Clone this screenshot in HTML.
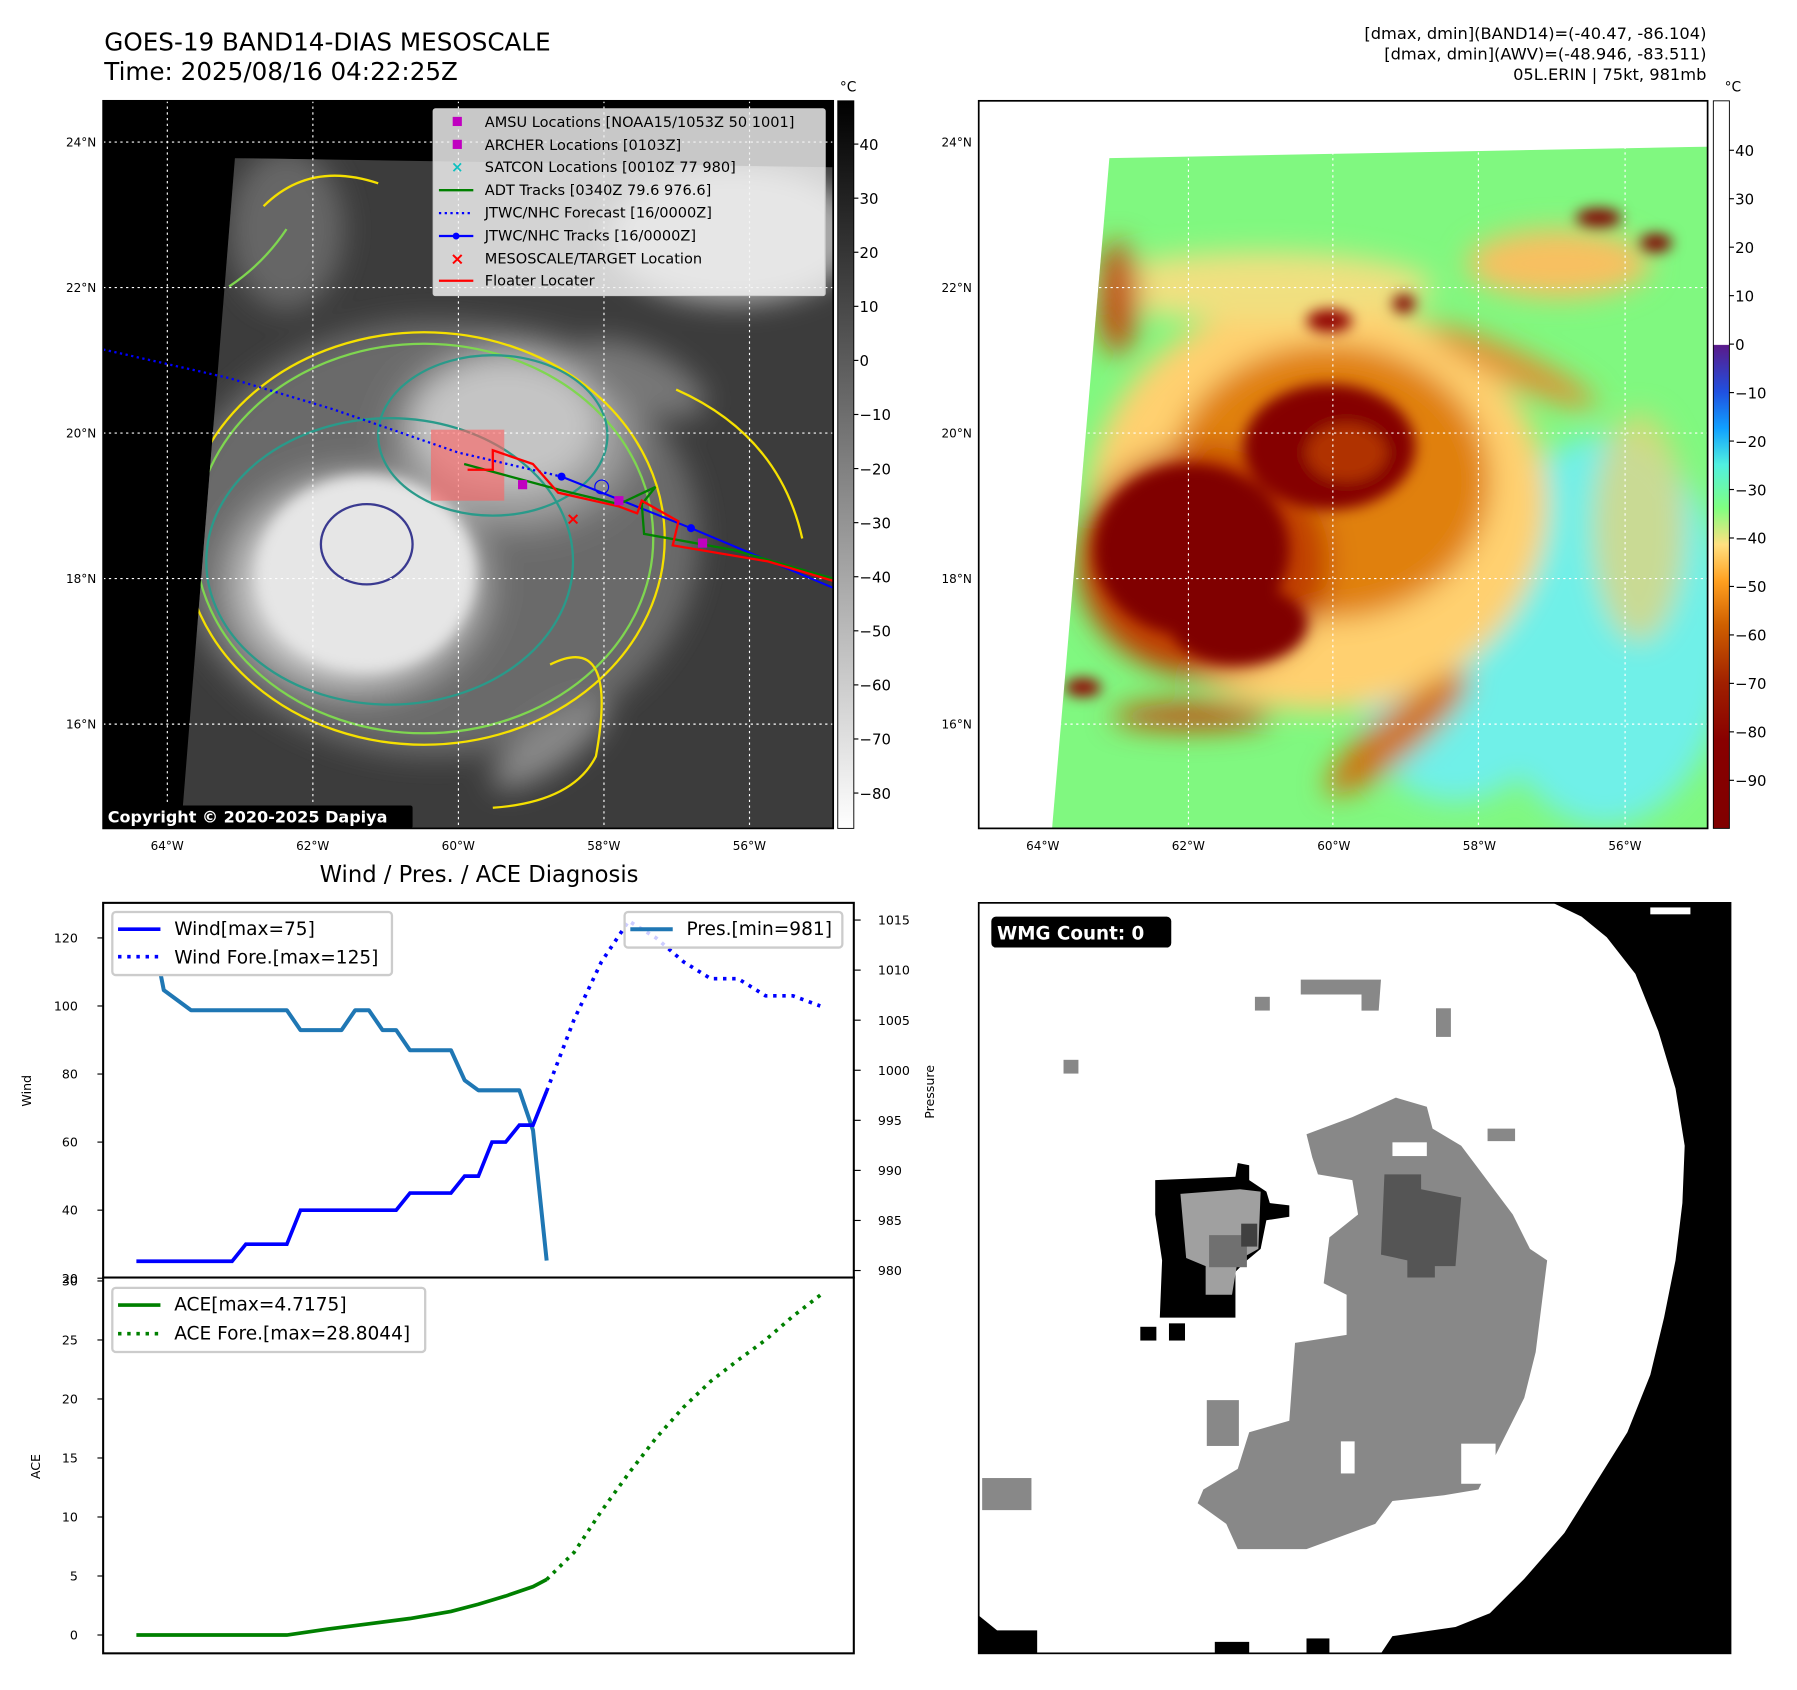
<!DOCTYPE html>
<html><head><meta charset="utf-8"><style>
html,body{margin:0;padding:0;background:#fff;}
svg{display:block;font-family:"DejaVu Sans","Liberation Sans",sans-serif;}
</style></head><body>
<svg id="fig" width="1797" height="1690" viewBox="0 0 1568 1475" preserveAspectRatio="none" xmlns="http://www.w3.org/2000/svg">
<defs>
<filter id="blur6"><feGaussianBlur stdDeviation="6"/></filter>
<filter id="blur12"><feGaussianBlur stdDeviation="12"/></filter>
<filter id="blur3"><feGaussianBlur stdDeviation="3"/></filter>
<clipPath id="clipL"><polygon points="205,138 727,146 727,723 158,723"/></clipPath>
<clipPath id="clipR"><polygon points="968,138 1490,128 1490,723 918,723"/></clipPath>
<linearGradient id="cbGrey" x1="0" y1="0" x2="0" y2="1"><stop offset="0" stop-color="#000"/><stop offset="1" stop-color="#fff"/></linearGradient>
<linearGradient id="cbColor" x1="0" y1="0" x2="0" y2="1">
<stop offset="0" stop-color="#fff"/><stop offset="0.335" stop-color="#fff"/>
<stop offset="0.336" stop-color="#5a1a8a"/><stop offset="0.4" stop-color="#2050e0"/>
<stop offset="0.45" stop-color="#10a0ff"/><stop offset="0.5" stop-color="#50f0e0"/>
<stop offset="0.56" stop-color="#80ff80"/><stop offset="0.61" stop-color="#ffe080"/>
<stop offset="0.66" stop-color="#ffa020"/><stop offset="0.72" stop-color="#d06000"/>
<stop offset="0.8" stop-color="#a02000"/><stop offset="0.88" stop-color="#880000"/><stop offset="1" stop-color="#800000"/>
</linearGradient>
<radialGradient id="coreL" cx="0.5" cy="0.5" r="0.5"><stop offset="0" stop-color="#f4f4f4"/><stop offset="0.6" stop-color="#e0e0e0"/><stop offset="1" stop-color="#e0e0e0" stop-opacity="0"/></radialGradient>
<radialGradient id="midL" cx="0.5" cy="0.5" r="0.5"><stop offset="0" stop-color="#bdbdbd"/><stop offset="0.7" stop-color="#9a9a9a"/><stop offset="1" stop-color="#777" stop-opacity="0"/></radialGradient>
</defs>

<!-- Titles -->
<text x="91" y="44" font-size="21.5">GOES-19 BAND14-DIAS MESOSCALE</text>
<text x="91" y="70" font-size="21.5">Time: 2025/08/16 04:22:25Z</text>
<text x="1489" y="34" font-size="14.2" text-anchor="end">[dmax, dmin](BAND14)=(-40.47, -86.104)</text>
<text x="1489" y="52" font-size="14.2" text-anchor="end">[dmax, dmin](AWV)=(-48.946, -83.511)</text>
<text x="1489" y="70" font-size="14.2" text-anchor="end">05L.ERIN | 75kt, 981mb</text>

<!-- LEFT MAP -->
<g>
<rect x="90" y="88" width="637" height="635" fill="#000"/>
<g clip-path="url(#clipL)">
<rect x="90" y="88" width="637" height="635" fill="#3c3c3c"/>
<g filter="url(#blur12)">
<ellipse cx="640" cy="205" rx="110" ry="60" fill="#a8a8a8"/>
<ellipse cx="250" cy="200" rx="50" ry="70" fill="#666"/>
<ellipse cx="380" cy="470" rx="230" ry="190" fill="#6a6a6a"/>
<ellipse cx="450" cy="380" rx="130" ry="100" fill="url(#midL)"/>
<ellipse cx="310" cy="510" rx="130" ry="110" fill="url(#coreL)"/>
<ellipse cx="440" cy="370" rx="80" ry="55" fill="#c4c4c4"/>
<ellipse cx="480" cy="650" rx="60" ry="20" fill="#888" transform="rotate(-35 480 650)"/>
<ellipse cx="560" cy="330" rx="60" ry="25" fill="#777" transform="rotate(25 560 330)"/>
</g>
<ellipse cx="320" cy="500" rx="95" ry="85" fill="#e6e6e6" filter="url(#blur6)"/>
<g fill="none" stroke-width="2">
<ellipse cx="370" cy="470" rx="210" ry="180" stroke="#f5e000"/>
<ellipse cx="370" cy="470" rx="200" ry="170" stroke="#7fd650"/>
<ellipse cx="340" cy="490" rx="160" ry="125" stroke="#2a9a8a"/>
<ellipse cx="430" cy="380" rx="100" ry="70" stroke="#2a9a8a"/>
<ellipse cx="320" cy="475" rx="40" ry="35" stroke="#3a3a90"/>
<path d="M480 580 Q540 550 520 660 Q500 700 430 705" stroke="#f5e000"/>
<path d="M590 340 Q680 380 700 470" stroke="#f5e000"/>
<path d="M230 180 Q270 140 330 160" stroke="#f5e000"/>
<path d="M200 250 Q230 230 250 200" stroke="#7fd650"/>
</g>
</g>
<g stroke="#fff" stroke-width="1" stroke-dasharray="2,3" fill="none">
<line x1="146" y1="88" x2="146" y2="723"/><line x1="273" y1="88" x2="273" y2="723"/><line x1="400" y1="88" x2="400" y2="723"/><line x1="527" y1="88" x2="527" y2="723"/><line x1="654" y1="88" x2="654" y2="723"/>
<line x1="90" y1="124" x2="727" y2="124"/><line x1="90" y1="251" x2="727" y2="251"/><line x1="90" y1="378" x2="727" y2="378"/><line x1="90" y1="505" x2="727" y2="505"/><line x1="90" y1="632" x2="727" y2="632"/>
</g>
<rect x="376" y="375" width="64" height="62" fill="#ff6060" opacity="0.6"/>
<polyline points="90,305 200,330 290,357 400,395 490,416" fill="none" stroke="#0000ff" stroke-width="2" stroke-dasharray="2,3"/>
<polyline points="490,416 603,461 727,513" fill="none" stroke="#0000ff" stroke-width="1.8"/>
<circle cx="490" cy="416" r="3.5" fill="#0000ff"/><circle cx="603" cy="461" r="3.5" fill="#0000ff"/><circle cx="525" cy="425" r="6" fill="none" stroke="#0000ff"/>
<polyline points="405,405 490,428 540,440 572,425 560,440 562,466 640,480 727,505" fill="none" stroke="#008000" stroke-width="2"/>
<polyline points="408,410 430,410 430,393 465,405 487,430 540,442 556,448 560,437 592,455 587,476 670,490 727,507" fill="none" stroke="#ff0000" stroke-width="2"/>
<text x="500" y="458" font-size="15" fill="#ff0000" text-anchor="middle" font-weight="bold">×</text>
<rect x="452" y="419" width="8" height="8" fill="#c000c0"/><rect x="609" y="470" width="8" height="8" fill="#c000c0"/><rect x="536" y="433" width="8" height="8" fill="#c000c0"/>
<g>
<rect x="378" y="95" width="342" height="163" fill="#f4f4f4" fill-opacity="0.82" stroke="#ccc" rx="2"/>
<g font-size="12.7" fill="#000">
<rect x="395" y="102" width="8" height="8" fill="#c000c0"/><text x="423" y="111">AMSU Locations [NOAA15/1053Z 50 1001]</text>
<rect x="395" y="122" width="8" height="8" fill="#c000c0"/><text x="423" y="131">ARCHER Locations [0103Z]</text>
<text x="399" y="150" fill="#10c0c0" text-anchor="middle" font-size="13" font-weight="bold">×</text><text x="423" y="150">SATCON Locations [0010Z 77 980]</text>
<line x1="383" y1="166" x2="413" y2="166" stroke="#008000" stroke-width="2"/><text x="423" y="170">ADT Tracks [0340Z 79.6 976.6]</text>
<line x1="383" y1="186" x2="413" y2="186" stroke="#0000ff" stroke-width="2" stroke-dasharray="2,3"/><text x="423" y="190">JTWC/NHC Forecast [16/0000Z]</text>
<line x1="383" y1="206" x2="413" y2="206" stroke="#0000ff" stroke-width="2"/><circle cx="398" cy="206" r="3" fill="#0000ff"/><text x="423" y="210">JTWC/NHC Tracks [16/0000Z]</text>
<text x="399" y="231" fill="#ff0000" text-anchor="middle" font-size="15" font-weight="bold">×</text><text x="423" y="230">MESOSCALE/TARGET Location</text>
<line x1="383" y1="245" x2="413" y2="245" stroke="#ff0000" stroke-width="2"/><text x="423" y="249">Floater Locater</text>
</g></g>
<rect x="90" y="703" width="270" height="20" fill="#000" rx="2"/>
<text x="94" y="718" font-size="14" fill="#fff" font-weight="bold">Copyright © 2020-2025 Dapiya</text>
<rect x="90" y="88" width="637" height="635" fill="none" stroke="#000" stroke-width="1.5"/>
</g>
<g>
<rect x="731" y="88" width="14" height="635" fill="url(#cbGrey)" stroke="#000" stroke-width="0.8"/>
<text x="740" y="80" font-size="12" text-anchor="middle">°C</text>
<g font-size="13" id="cb1ticks"></g>
</g>
<g id="mapTicksL" font-size="10.5"></g>

<!-- RIGHT MAP -->
<g>
<rect x="854" y="88" width="636" height="635" fill="#fff"/>
<g clip-path="url(#clipR)">
<rect x="854" y="88" width="636" height="635" fill="#80f880"/>
<g filter="url(#blur12)">
<ellipse cx="1400" cy="550" rx="110" ry="170" fill="#70f0e8"/>
<ellipse cx="1270" cy="620" rx="80" ry="80" fill="#70f0e8"/>
<ellipse cx="1150" cy="440" rx="200" ry="180" fill="#ffd070"/>
<ellipse cx="1100" cy="250" rx="150" ry="30" fill="#f0e080"/>
<ellipse cx="1360" cy="230" rx="80" ry="30" fill="#f8c060"/>
<ellipse cx="1160" cy="420" rx="140" ry="120" fill="#e08010"/>
<ellipse cx="1050" cy="490" rx="110" ry="100" fill="#c04000"/>
<ellipse cx="1220" cy="640" rx="80" ry="20" fill="#d07010" transform="rotate(-40 1220 640)"/>
<ellipse cx="1040" cy="625" rx="70" ry="12" fill="#c05010"/>
<ellipse cx="1320" cy="320" rx="80" ry="14" fill="#e09030" transform="rotate(25 1320 320)"/>
<ellipse cx="975" cy="260" rx="18" ry="50" fill="#c05010"/>
<ellipse cx="1430" cy="460" rx="40" ry="100" fill="#f0d070" opacity="0.7"/>
</g>
<g filter="url(#blur6)">
<ellipse cx="1040" cy="480" rx="85" ry="75" fill="#800000"/>
<ellipse cx="1080" cy="545" rx="60" ry="35" fill="#800000"/>
<ellipse cx="1160" cy="390" rx="75" ry="55" fill="#850000"/>
<ellipse cx="1175" cy="395" rx="35" ry="25" fill="#b03000"/>
<ellipse cx="1395" cy="190" rx="20" ry="8" fill="#800000"/>
<ellipse cx="1445" cy="212" rx="14" ry="8" fill="#800000"/>
<ellipse cx="1160" cy="280" rx="20" ry="10" fill="#900000"/>
<ellipse cx="1225" cy="265" rx="10" ry="8" fill="#800000"/>
<ellipse cx="945" cy="600" rx="16" ry="8" fill="#900000"/>
</g>
</g>
<g stroke="#fff" stroke-width="1" stroke-dasharray="2,3" fill="none">
<line x1="910" y1="88" x2="910" y2="723"/><line x1="1037" y1="88" x2="1037" y2="723"/><line x1="1163" y1="88" x2="1163" y2="723"/><line x1="1290" y1="88" x2="1290" y2="723"/><line x1="1418" y1="88" x2="1418" y2="723"/>
<line x1="854" y1="124" x2="1490" y2="124"/><line x1="854" y1="251" x2="1490" y2="251"/><line x1="854" y1="378" x2="1490" y2="378"/><line x1="854" y1="505" x2="1490" y2="505"/><line x1="854" y1="632" x2="1490" y2="632"/>
</g>
<rect x="854" y="88" width="636" height="635" fill="none" stroke="#000" stroke-width="1.5"/>
</g>
<g>
<rect x="1495" y="88" width="14" height="635" fill="url(#cbColor)" stroke="#000" stroke-width="0.8"/>
<text x="1512" y="80" font-size="12" text-anchor="middle">°C</text>
<g font-size="13" id="cb2ticks"></g>
</g>
<g id="mapTicksR" font-size="10.5"></g>

<!-- WIND / PRESSURE / ACE -->
<text x="418" y="770" font-size="19.8" text-anchor="middle">Wind / Pres. / ACE Diagnosis</text>
<g id="windPanel"></g>
<g id="acePanel"></g>

<!-- WMG -->
<g>
<rect x="854" y="788" width="656" height="655" fill="#fff"/>
<polygon fill="#000" points="1355,788 1510,788 1510,1443 1205,1443 1215,1428 1270,1420 1300,1408 1330,1378 1365,1338 1390,1298 1420,1250 1440,1200 1452,1150 1462,1100 1468,1050 1470,1000 1462,950 1447,900 1427,850 1402,818 1380,800"/>
<rect x="1440" y="792" width="35" height="6" fill="#fff"/>
<polygon fill="#000" points="854,1410 870,1423 905,1423 905,1443 854,1443"/>
<rect x="1060" y="1433" width="30" height="10" fill="#000"/><rect x="1140" y="1430" width="20" height="13" fill="#000"/>
<polygon fill="#888" points="1140,990 1180,975 1218,958 1245,966 1250,985 1275,1000 1290,1020 1305,1040 1320,1060 1335,1090 1350,1100 1340,1180 1330,1220 1310,1260 1290,1300 1260,1305 1215,1310 1200,1330 1140,1352 1080,1352 1070,1330 1045,1312 1050,1300 1080,1282 1090,1250 1125,1240 1130,1172 1175,1165 1175,1130 1155,1120 1160,1080 1185,1060 1180,1030 1150,1025 1145,1010"/>
<rect x="1170" y="1258" width="12" height="28" fill="#fff"/><rect x="1275" y="1260" width="30" height="35" fill="#fff"/><rect x="1215" y="997" width="30" height="12" fill="#fff"/>
<polygon fill="#555" points="1208,1025 1240,1025 1240,1038 1275,1045 1270,1105 1252,1105 1252,1115 1228,1115 1228,1100 1205,1095"/>
<polygon fill="#888" points="1298,985 1322,985 1322,996 1298,996"/>
<polygon fill="#000" points="1008,1030 1078,1027 1080,1015 1090,1017 1090,1030 1105,1040 1108,1050 1125,1052 1125,1062 1105,1065 1100,1090 1088,1100 1078,1110 1078,1150 1012,1150 1014,1100 1008,1060"/>
<polygon fill="#a0a0a0" points="1030,1042 1082,1038 1100,1040 1098,1090 1080,1100 1075,1130 1052,1130 1052,1105 1035,1098"/>
<rect x="1055" y="1078" width="33" height="28" fill="#707070"/><rect x="1083" y="1068" width="14" height="20" fill="#404040"/>
<rect x="995" y="1158" width="14" height="12" fill="#000"/><rect x="1020" y="1155" width="14" height="15" fill="#000"/>
<polygon fill="#888" points="1135,855 1205,855 1203,882 1188,882 1188,868 1135,868"/>
<rect x="1095" y="870" width="13" height="12" fill="#888"/><rect x="1253" y="880" width="13" height="25" fill="#888"/>
<rect x="928" y="925" width="13" height="12" fill="#888"/><rect x="857" y="1290" width="43" height="28" fill="#888"/>
<rect x="1053" y="1222" width="28" height="40" fill="#888"/>
<rect x="865" y="800" width="157" height="27" rx="4" fill="#000"/>
<text x="870" y="820" font-size="16" font-weight="bold" fill="#fff">WMG Count: 0</text>
<rect x="854" y="788" width="656" height="655" fill="none" stroke="#000" stroke-width="1.5"/>
</g>
</svg>
<script>
// ---- chart data ----
var windObsHours = [0, 42, 48, 66, 72, 114, 120, 138, 144, 150, 156, 162, 168, 174, 180];
var windObs = [25, 25, 30, 30, 40, 40, 45, 45, 50, 50, 60, 60, 65, 65, 75];
var windFcstHours = [180, 192, 204, 216, 228, 240, 252, 264, 276, 288, 300];
var windFcst = [75, 96, 113, 125, 120, 113, 108, 108, 103, 103, 100];
var presHours = [0, 6, 12, 24, 66, 72, 90, 96, 102, 108, 114, 120, 138, 144, 150, 168, 174, 180];
var presObs = [1015, 1015, 1008, 1006, 1006, 1004, 1004, 1006, 1006, 1004, 1004, 1002, 1002, 999, 998, 998, 994, 981];
var aceObsHours = [0, 66, 84, 102, 120, 138, 150, 162, 174, 180];
var aceObs = [0, 0, 0.5, 0.95, 1.4, 2.0, 2.6, 3.3, 4.1, 4.7];
var aceFcstHours = [180, 192, 204, 216, 228, 240, 252, 264, 276, 288, 300];
var aceFcst = [4.7, 7, 10.5, 13.7, 16.7, 19.3, 21.5, 23.3, 25, 27, 28.8];
var windTicks = [20, 40, 60, 80, 100, 120];
var presTicks = [980, 985, 990, 995, 1000, 1005, 1010, 1015];
var aceTicks = [0, 5, 10, 15, 20, 25, 30];
var cb1Ticks = [40, 30, 20, 10, 0, -10, -20, -30, -40, -50, -60, -70, -80];
var cb2Ticks = [40, 30, 20, 10, 0, -10, -20, -30, -40, -50, -60, -70, -80, -90];
var lonTicks = [-64, -62, -60, -58, -56];
var latTicks = [24, 22, 20, 18, 16];

var NS = 'http://www.w3.org/2000/svg';
function mk(tag, attrs, parent) { var e = document.createElementNS(NS, tag); for (var k in attrs) e.setAttribute(k, attrs[k]); parent.appendChild(e); return e; }
function xT(h) { return 119 + h * 1.989; }
function yW(v) { return 878 - (v - 100) * 2.97; }
function yP(p) { return 803 + (1015 - p) * 8.74; }
function yA(v) { return 1427 - v * 10.3; }
function pts(hs, vs, yf) { return hs.map(function (h, i) { return xT(h).toFixed(1) + ',' + yf(vs[i]).toFixed(1); }).join(' '); }

var wp = document.getElementById('windPanel');
var ap = document.getElementById('acePanel');
mk('rect', { x: 90, y: 788, width: 655, height: 327, fill: '#fff' }, wp);
windTicks.forEach(function (t) {
  var g = mk('g', {}, wp);
  
  
  mk('line', { x1: 85, x2: 90, y1: yW(t), y2: yW(t), stroke: '#000' }, g);
  var tx = mk('text', { x: 68, y: yW(t) + 4, 'font-size': 11, 'text-anchor': 'end' }, g); tx.textContent = t;
});
presTicks.forEach(function (t) {
  var g = mk('g', {}, wp);
  
  
  mk('line', { x1: 745, x2: 751, y1: yP(t), y2: yP(t), stroke: '#000' }, g);
  var tx = mk('text', { x: 766, y: yP(t) + 4, 'font-size': 11 }, g); tx.textContent = t;
});
var l1 = mk('polyline', { points: pts(presHours, presObs, yP), fill: 'none', stroke: '#1f77b4', 'stroke-width': 3.5, 'stroke-linejoin': 'round' }, wp);


var l2 = mk('polyline', { points: pts(windObsHours, windObs, yW), fill: 'none', stroke: '#0000ff', 'stroke-width': 3.2 }, wp);


var l3 = mk('polyline', { points: pts(windFcstHours, windFcst, yW), fill: 'none', stroke: '#0000ff', 'stroke-width': 3.2, 'stroke-dasharray': '3,5' }, wp);


var lw = mk('text', { x: 27, y: 952, 'font-size': 11, 'text-anchor': 'middle', transform: 'rotate(-90 27 952)' }, wp); lw.textContent = 'Wind';


var lpr = mk('text', { x: 815, y: 953, 'font-size': 11, 'text-anchor': 'middle', transform: 'rotate(-90 815 953)' }, wp); lpr.textContent = 'Pressure';


var lg = mk('g', {}, wp);


mk('rect', { x: 98, y: 796, width: 244, height: 55, fill: '#fff', stroke: '#ccc', 'stroke-width': 2, rx: 3 }, lg);
mk('line', { x1: 103, x2: 140, y1: 811, y2: 811, stroke: '#0000ff', 'stroke-width': 3.2 }, lg);
mk('line', { x1: 103, x2: 140, y1: 835, y2: 835, stroke: '#0000ff', 'stroke-width': 3.2, 'stroke-dasharray': '3,5' }, lg);
var t1 = mk('text', { x: 152, y: 816, 'font-size': 16.2 }, lg); t1.textContent = 'Wind[max=75]';
var t2 = mk('text', { x: 152, y: 841, 'font-size': 16.2 }, lg); t2.textContent = 'Wind Fore.[max=125]';
var lg2 = mk('g', {}, wp);


mk('rect', { x: 545, y: 796, width: 190, height: 31, fill: '#fff', 'fill-opacity': 0.8, stroke: '#ccc', 'stroke-width': 2, rx: 3 }, lg2);
mk('line', { x1: 550, x2: 587, y1: 811, y2: 811, stroke: '#1f77b4', 'stroke-width': 3.5 }, lg2);
var t3 = mk('text', { x: 599, y: 816, 'font-size': 16.2 }, lg2); t3.textContent = 'Pres.[min=981]';
mk('rect', { x: 90, y: 788, width: 655, height: 327, fill: 'none', stroke: '#000', 'stroke-width': 1.8 }, wp);

mk('rect', { x: 90, y: 1115, width: 655, height: 328, fill: '#fff' }, ap);
aceTicks.forEach(function (t) {
  var g = mk('g', {}, ap);
  
  
  mk('line', { x1: 85, x2: 90, y1: yA(t), y2: yA(t), stroke: '#000' }, g);
  var tx = mk('text', { x: 68, y: yA(t) + 4, 'font-size': 11, 'text-anchor': 'end' }, g); tx.textContent = t;
});
var a1 = mk('polyline', { points: pts(aceObsHours, aceObs, yA), fill: 'none', stroke: '#008000', 'stroke-width': 3.2 }, ap);


var a2 = mk('polyline', { points: pts(aceFcstHours, aceFcst, yA), fill: 'none', stroke: '#008000', 'stroke-width': 3.2, 'stroke-dasharray': '3,5' }, ap);


var la = mk('text', { x: 35, y: 1280, 'font-size': 11, 'text-anchor': 'middle', transform: 'rotate(-90 35 1280)' }, ap); la.textContent = 'ACE';


var lg3 = mk('g', {}, ap);


mk('rect', { x: 98, y: 1124, width: 273, height: 56, fill: '#fff', stroke: '#ccc', 'stroke-width': 2, rx: 3 }, lg3);
mk('line', { x1: 103, x2: 140, y1: 1139, y2: 1139, stroke: '#008000', 'stroke-width': 3.2 }, lg3);
mk('line', { x1: 103, x2: 140, y1: 1164, y2: 1164, stroke: '#008000', 'stroke-width': 3.2, 'stroke-dasharray': '3,5' }, lg3);
var t4 = mk('text', { x: 152, y: 1144, 'font-size': 16.2 }, lg3); t4.textContent = 'ACE[max=4.7175]';
var t5 = mk('text', { x: 152, y: 1169, 'font-size': 16.2 }, lg3); t5.textContent = 'ACE Fore.[max=28.8044]';
mk('rect', { x: 90, y: 1115, width: 655, height: 328, fill: 'none', stroke: '#000', 'stroke-width': 1.8 }, ap);

var cb1 = document.getElementById('cb1ticks');
cb1Ticks.forEach(function (t) {
  var y = 88 + (48 - t) * 4.72;
  mk('line', { x1: 745, x2: 749, y1: y, y2: y, stroke: '#000' }, cb1);
  var tx = mk('text', { x: 750, y: y + 5 }, cb1); tx.textContent = t < 0 ? '\u2212' + (-t) : t;
});
var cb2 = document.getElementById('cb2ticks');
cb2Ticks.forEach(function (t) {
  var y = 88 + (50.2 - t) * 4.23;
  mk('line', { x1: 1509, x2: 1513, y1: y, y2: y, stroke: '#000' }, cb2);
  var tx = mk('text', { x: 1514, y: y + 5 }, cb2); tx.textContent = t < 0 ? '\u2212' + (-t) : t;
});
function mapTicks(id, x0) {
  var g = document.getElementById(id);
  lonTicks.forEach(function (lon) {
    var x = x0 + (lon + 64.88) * 63.5;
    var tx = mk('text', { x: x, y: 742, 'text-anchor': 'middle' }, g); tx.textContent = (-lon) + '\u00b0W';
  });
  latTicks.forEach(function (lat) {
    var y = 378 - (lat - 20) * 63.5;
    var tx = mk('text', { x: x0 - 6, y: y + 4, 'text-anchor': 'end' }, g); tx.textContent = lat + '\u00b0N';
  });
}
mapTicks('mapTicksL', 90);
mapTicks('mapTicksR', 854);
</script>
</body></html>
